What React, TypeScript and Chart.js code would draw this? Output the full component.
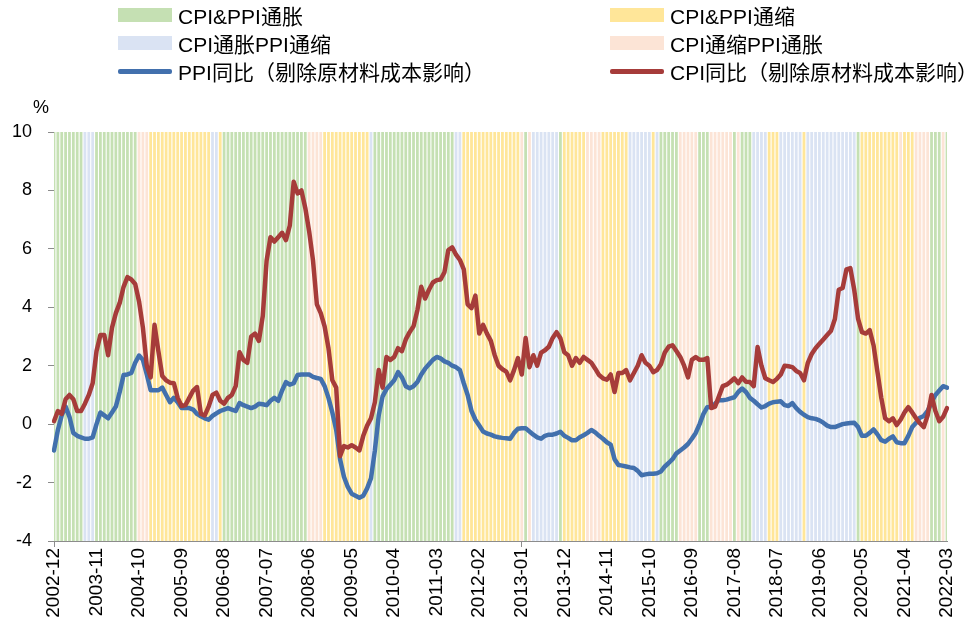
import React, { useEffect, useRef } from 'react';
import { Chart, registerables } from 'chart.js';

Chart.register(...registerables);

// Monthly categories 2002-12 .. 2022-03
const startYear = 2002;
const startMonth = 12;
const monthCount = 232;
const months: string[] = [];
for (let i = 0; i < monthCount; i++) {
  const m0 = startMonth - 1 + i;
  const y = startYear + Math.floor(m0 / 12);
  const m = (m0 % 12) + 1;
  months.push(`${y}-${m < 10 ? '0' + m : m}`);
}

const tickLabels = [
  '2002-12', '2003-11', '2004-10', '2005-09', '2006-08', '2007-07', '2008-06', '2009-05',
  '2010-04', '2011-03', '2012-02', '2013-01', '2013-12', '2014-11', '2015-10', '2016-09',
  '2017-08', '2018-07', '2019-06', '2020-05', '2021-04', '2022-03',
];

const yTicks = [-4, -2, 0, 2, 4, 6, 8, 10];

const ppi = [
  -0.9, -0.2, 0.3, 0.6, 0.25, -0.3, -0.4, -0.45, -0.5, -0.5,
  -0.45, 0.0, 0.4, 0.3, 0.2, 0.4, 0.6, 1.1, 1.68, 1.7,
  1.75, 2.1, 2.35, 2.2, 1.7, 1.16, 1.16, 1.16, 1.25, 1.0,
  0.75, 0.9, 0.75, 0.55, 0.55, 0.55, 0.5, 0.35, 0.27, 0.2,
  0.15, 0.28, 0.37, 0.45, 0.5, 0.55, 0.5, 0.45, 0.72, 0.65,
  0.6, 0.55, 0.6, 0.7, 0.68, 0.65, 0.8, 0.9, 0.8, 1.15,
  1.44, 1.35, 1.4, 1.68, 1.7, 1.7, 1.7, 1.62, 1.58, 1.55,
  1.3, 0.9, 0.4, -0.2, -1.2, -1.8, -2.15, -2.38, -2.45, -2.52,
  -2.45, -2.2, -1.85, -0.9, 0.3, 0.95, 1.2, 1.35, 1.5, 1.78,
  1.6, 1.3, 1.23, 1.3, 1.44, 1.7, 1.9, 2.05, 2.2, 2.3,
  2.25, 2.15, 2.1, 2.0, 1.95, 1.85, 1.4, 1.0, 0.45, 0.15,
  -0.05, -0.25, -0.32, -0.36, -0.42, -0.45, -0.47, -0.48, -0.5, -0.3,
  -0.16, -0.14, -0.14, -0.25, -0.36, -0.45, -0.5, -0.4, -0.36, -0.36,
  -0.32, -0.26, -0.4, -0.47, -0.55, -0.55, -0.45, -0.38, -0.3, -0.2,
  -0.28, -0.4, -0.5, -0.62, -0.7, -1.2, -1.4, -1.42, -1.45, -1.48,
  -1.5, -1.6, -1.75, -1.72, -1.7, -1.7, -1.68, -1.62, -1.45, -1.33,
  -1.2, -1.0, -0.9, -0.8, -0.68, -0.5, -0.3, 0.0, 0.35, 0.58,
  0.6, 0.7, 0.82, 0.82, 0.84, 0.88, 0.92, 1.1, 1.22, 1.1,
  0.9, 0.8, 0.68, 0.57, 0.62, 0.7, 0.75, 0.77, 0.78, 0.65,
  0.62, 0.72, 0.55, 0.42, 0.32, 0.24, 0.2, 0.18, 0.13, 0.05,
  -0.05, -0.1, -0.1, -0.05, 0.0, 0.02, 0.04, 0.05, -0.1, -0.4,
  -0.4, -0.3, -0.18, -0.35, -0.55, -0.6, -0.5, -0.42, -0.62, -0.65,
  -0.65, -0.4, -0.1, 0.05, 0.22, 0.28, 0.45, 0.75, 1.0, 1.15,
  1.3, 1.25,
];

const cpi = [
  0.1, 0.45, 0.35, 0.85, 1.0, 0.85, 0.45, 0.45, 0.7, 1.0,
  1.4, 2.5, 3.05, 3.05, 2.36, 3.3, 3.8, 4.15, 4.7, 5.03,
  4.95, 4.8, 4.2, 3.3, 2.0, 1.6, 3.4, 2.5, 1.65, 1.5,
  1.42, 1.4, 0.9, 0.62, 0.65, 0.9, 1.15, 1.27, 0.35, 0.3,
  0.6, 1.0, 1.08, 0.8, 0.7, 0.9, 1.0, 1.3, 2.46, 2.2,
  2.1, 3.0, 3.1, 2.85, 3.7, 5.6, 6.4, 6.25, 6.4, 6.55,
  6.3, 6.8, 8.3, 7.9, 8.0, 7.4, 6.6, 5.6, 4.1, 3.8,
  3.35, 2.6, 1.5, 1.25, -1.1, -0.75, -0.8, -0.72, -0.8, -0.9,
  -0.4, -0.05, 0.2, 0.75, 1.85, 1.25, 2.3, 2.2, 2.3, 2.6,
  2.5, 2.9, 3.15, 3.35, 3.9, 4.7, 4.3, 4.6, 4.85, 4.93,
  4.95, 5.2, 5.96, 6.05, 5.8, 5.62, 5.3, 4.1, 3.97, 4.4,
  3.1, 3.4, 3.1, 2.85, 2.36, 2.0, 1.88, 1.8, 1.5, 1.85,
  2.26, 1.7, 2.95, 1.95, 2.36, 2.0, 2.45, 2.53, 2.65, 2.95,
  3.15, 2.94, 2.46, 2.36, 2.0, 2.26, 2.1, 2.3, 2.2, 2.1,
  1.9, 1.68, 1.57, 1.52, 1.7, 1.1, 1.75, 1.75, 1.85, 1.5,
  1.75, 2.0, 2.36, 2.1, 2.0, 1.78, 1.85, 2.05, 2.45, 2.65,
  2.7, 2.5, 2.3, 2.0, 1.6, 2.2, 2.3, 2.2, 2.2, 2.26,
  0.55, 0.6, 0.95, 1.3, 1.35, 1.45, 1.57, 1.4, 1.6, 1.45,
  1.44, 1.3, 2.64, 2.0, 1.57, 1.5, 1.44, 1.55, 1.7, 2.0,
  1.98, 1.95, 1.82, 1.75, 1.5, 2.1, 2.4, 2.6, 2.75, 2.9,
  3.05, 3.2, 3.6, 4.6, 4.66, 5.3, 5.34, 4.6, 3.6, 3.15,
  3.1, 3.22, 2.7, 1.8, 0.9, 0.2, 0.1, 0.2, -0.03, 0.15,
  0.4, 0.58, 0.4, 0.2, 0.03, -0.1, 0.3, 1.0, 0.45, 0.1,
  0.25, 0.55,
];

// Regime of each month, as runs: G = CPI&PPI通胀, Y = CPI&PPI通缩, B = CPI通胀PPI通缩, P = CPI通缩PPI通胀
const regimeRuns: [string, number][] = [
  ['G', 8], ['B', 3], ['G', 11], ['P', 3], ['Y', 16], ['B', 2], ['Y', 1], ['G', 22], ['P', 4], ['Y', 12],
  ['B', 1], ['G', 21], ['B', 2], ['Y', 15], ['P', 1], ['G', 1], ['P', 1], ['B', 7], ['G', 1], ['Y', 6],
  ['P', 4], ['Y', 7], ['B', 6], ['Y', 1], ['B', 1], ['G', 5], ['P', 5], ['G', 3], ['P', 6], ['G', 1],
  ['P', 1], ['G', 3], ['B', 4], ['Y', 3], ['B', 6], ['Y', 1], ['B', 13], ['G', 1], ['Y', 10], ['P', 1],
  ['Y', 3], ['P', 4], ['G', 3], ['P', 1], ['G', 1],
];

const regimeNames = ['CPI&PPI通胀', 'CPI&PPI通缩', 'CPI通胀PPI通缩', 'CPI通缩PPI通胀'];
const regimeCodes = ['G', 'Y', 'B', 'P'];
const regimeColors = ['#c5e0b3', '#ffe699', '#dae3f3', '#fce4d6'];
const ppiName = 'PPI同比（剔除原材料成本影响）';
const cpiName = 'CPI同比（剔除原材料成本影响）';
const ppiColor = '#4270ad';
const cpiColor = '#a63c3a';

const FONT = "'Liberation Sans', 'Noto Sans CJK SC', sans-serif";

function renderLabel(label: string) {
  // give full-width brackets their full em width
  return label.split('').map((ch, i) => {
    if (ch === '（') {
      return (
        <span key={i} style={{ display: 'inline-block', width: '1em', textAlign: 'right' }}>
          {ch}
        </span>
      );
    }
    if (ch === '）') {
      return (
        <span key={i} style={{ display: 'inline-block', width: '1em', textAlign: 'left' }}>
          {ch}
        </span>
      );
    }
    return <React.Fragment key={i}>{ch}</React.Fragment>;
  });
}

export default function App() {
  const ref = useRef<HTMLCanvasElement | null>(null);

  useEffect(() => {
    if (!ref.current) return;
    const regimeByMonth: string[] = [];
    regimeRuns.forEach(([c, n]) => {
      for (let k = 0; k < n; k++) regimeByMonth.push(c);
    });
    const yMin = yTicks[0];
    const yMax = yTicks[yTicks.length - 1];
    const barSets = regimeCodes.map((code, ri) => ({
      type: 'bar' as const,
      label: regimeNames[ri],
      data: months.map((_, i) => (regimeByMonth[i] === code ? [yMin, yMax] : null)),
      backgroundColor: regimeColors[ri],
      borderWidth: 0,
      grouped: false,
      barPercentage: 0.72,
      categoryPercentage: 1,
      order: 3,
    }));

    const chart = new Chart(ref.current, {
      type: 'bar',
      data: {
        labels: months,
        datasets: [
          ...barSets,
          {
            type: 'line',
            label: ppiName,
            data: ppi,
            borderColor: ppiColor,
            borderWidth: 4.5,
            pointRadius: 0,
            tension: 0,
            borderJoinStyle: 'round',
            borderCapStyle: 'round',
            order: 2,
          },
          {
            type: 'line',
            label: cpiName,
            data: cpi,
            borderColor: cpiColor,
            borderWidth: 4.5,
            pointRadius: 0,
            tension: 0,
            borderJoinStyle: 'round',
            borderCapStyle: 'round',
            order: 1,
          },
        ] as any,
      },
      options: {
        animation: false,
        responsive: false,
        maintainAspectRatio: false,
        layout: { padding: { top: 132, left: 0, right: 25, bottom: 0 } },
        plugins: { legend: { display: false }, tooltip: { enabled: false } },
        scales: {
          x: {
            type: 'category',
            offset: false,
            grid: {
              offset: false,
              drawOnChartArea: false,
              drawTicks: true,
              tickLength: 6,
              color: (ctx: any) => (tickLabels.includes(months[ctx.index]) ? '#8c8c8c' : 'rgba(0,0,0,0)'),
            },
            border: { display: true, color: '#8c8c8c', width: 1 },
            ticks: {
              autoSkip: false,
              maxRotation: 90,
              minRotation: 90,
              padding: 1,
              color: '#000',
              font: { family: FONT, size: 19 },
              callback: (_v: any, i: number) => (tickLabels.includes(months[i]) ? months[i] : null),
            },
            afterFit: (s: any) => {
              s.height = 90;
            },
          },
          y: {
            min: yMin,
            max: yMax,
            afterBuildTicks: (s: any) => {
              s.ticks = yTicks.map((v) => ({ value: v }));
            },
            grid: {
              drawOnChartArea: false,
              drawTicks: true,
              tickLength: 6,
              color: '#8c8c8c',
            },
            border: { display: true, color: '#8c8c8c', width: 1 },
            ticks: {
              padding: 16,
              color: '#000',
              font: { family: FONT, size: 18 },
            },
            afterFit: (s: any) => {
              s.width = 54;
            },
          },
        },
      } as any,
    });
    return () => chart.destroy();
  }, []);

  const legendItem = (
    left: number,
    top: number,
    label: string,
    kind: 'box' | 'line',
    color: string,
  ) => (
    <div
      key={label}
      style={{ position: 'absolute', left, top, height: 28, display: 'flex', alignItems: 'center' }}
    >
      {kind === 'box' ? (
        <div style={{ width: 54, height: 14, background: color }} />
      ) : (
        <div style={{ width: 54, height: 5, background: color, borderRadius: 2 }} />
      )}
      <span
        style={{
          marginLeft: 6,
          fontFamily: FONT,
          fontSize: 21,
          color: '#000',
          whiteSpace: 'nowrap',
        }}
      >
        {renderLabel(label)}
      </span>
    </div>
  );

  return (
    <div style={{ position: 'fixed', left: 0, top: 0, width: 972, height: 631, background: '#fff' }}>
      <canvas ref={ref} width={972} height={631} style={{ position: 'absolute', left: 0, top: 0 }} />
      {legendItem(118, 1, regimeNames[0], 'box', regimeColors[0])}
      {legendItem(610, 1, regimeNames[1], 'box', regimeColors[1])}
      {legendItem(118, 29, regimeNames[2], 'box', regimeColors[2])}
      {legendItem(610, 29, regimeNames[3], 'box', regimeColors[3])}
      {legendItem(118, 57, ppiName, 'line', ppiColor)}
      {legendItem(610, 57, cpiName, 'line', cpiColor)}
      <div
        style={{
          position: 'absolute',
          left: 33,
          top: 97,
          fontFamily: FONT,
          fontSize: 18,
          color: '#000',
        }}
      >
        %
      </div>
    </div>
  );
}
